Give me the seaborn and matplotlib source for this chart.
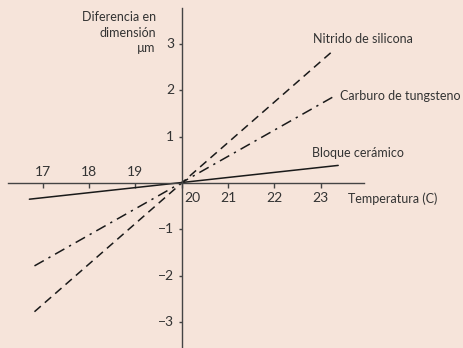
import pandas as pd
import matplotlib.pyplot as plt
import seaborn as sns

# ── Datos ─────────────────────────────────────────────
materiales = ['Nitrido de silicona', 'Carburo de tungsteno', 'Bloque cerámico']
temp_inicio = [16.82, 16.82, 16.71]
temp_fin = [23.25, 23.27, 23.38]
dif_inicio = [-2.78, -1.79, -0.35]
dif_fin = [2.84, 1.86, 0.38]

ticks_x = [17, 18, 19, 20, 21, 22, 23]
ticks_y = [-3, -2, -1, 1, 2, 3]

filas = []
for m, x0, x1, y0, y1 in zip(materiales, temp_inicio, temp_fin, dif_inicio, dif_fin):
    filas.append({'material': m, 'temp': x0, 'dif': y0})
    filas.append({'material': m, 'temp': x1, 'dif': y1})
df = pd.DataFrame(filas)

# ── Estilo ────────────────────────────────────────────
fondo = '#F6E4DA'
tinta = '#333333'
sns.set_theme(style='white')
plt.rcParams['font.family'] = ['Lato', 'DejaVu Sans']

fig = plt.figure(figsize=(4.63, 3.48), dpi=100, facecolor=fondo)
ax = fig.add_axes([0, 0, 1, 1])
ax.set_facecolor(fondo)

escala = 46.3  # px por unidad
ax.set_xlim(20 - 181.7 / escala, 20 + (463 - 181.7) / escala)
ax.set_ylim(-(348 - 183) / escala, 183 / escala)

sns.lineplot(
    data=df, x='temp', y='dif', style='material', style_order=materiales,
    dashes={'Nitrido de silicona': (5.5, 3.5),
            'Carburo de tungsteno': (7, 3.5, 1.5, 3.5),
            'Bloque cerámico': ''},
    color='#1a1a1a', lw=1.1, legend=False, ax=ax, estimator=None, sort=False
)

# ── Ejes en cruz ──────────────────────────────────────
for lado in ['top', 'right']:
    ax.spines[lado].set_visible(False)
ax.spines['left'].set_position(('data', 20))
ax.spines['bottom'].set_position(('data', 0))
ax.spines['bottom'].set_bounds(20 - (181.7 - 8.3) / escala, 20 + (364.3 - 181.7) / escala)
ax.spines['left'].set_bounds(-5, (183 - 8.3) / escala)
for lado in ['left', 'bottom']:
    ax.spines[lado].set_color('#444444')
    ax.spines[lado].set_linewidth(1.0)

ax.set_xticks(ticks_x)
ax.set_xticklabels([])
ax.set_yticks(ticks_y)
ax.set_yticklabels([])
ax.tick_params(axis='x', direction='out', length=3.3, width=1.0, color='#444444', bottom=True)
ax.tick_params(axis='y', direction='out', length=2.5, width=1.0, color='#444444', left=True)
ax.set_xlabel('')
ax.set_ylabel('')

fs = 9
fs_num = 10
for t in ticks_x:
    if t < 20:
        ax.annotate(str(t), (t, 0), xytext=(0, 3.5), textcoords='offset points',
                    ha='center', va='bottom', fontsize=fs_num, color=tinta)
    else:
        dx = 8 if t == 20 else 0
        ax.annotate(str(t), (t, 0), xytext=(dx, -6.5), textcoords='offset points',
                    ha='center', va='top', fontsize=fs_num, color=tinta)
for t in ticks_y:
    ax.annotate(f'\u2212{abs(t)}' if t < 0 else str(t), (20, t), xytext=(-5.5, 0),
                textcoords='offset points', ha='right', va='center', fontsize=fs_num, color=tinta)

# ── Etiquetas ─────────────────────────────────────────
etiquetas_x = [22.84, 23.42, 22.81]
etiquetas_y = [3.11, 1.88, 0.65]
for m, x, y in zip(materiales, etiquetas_x, etiquetas_y):
    ax.text(x, y, m, ha='left', va='center', fontsize=fs, color=tinta)

ax.text(23.59, -0.345, 'Temperatura (C)', ha='left', va='center', fontsize=fs, color=tinta)
ax.text(19.44, 3.72, 'Diferencia en\ndimensión\nµm', ha='right', va='top',
        multialignment='right', fontsize=fs, color=tinta, linespacing=1.38)

fig.savefig('out.png', dpi=100, facecolor=fondo)
